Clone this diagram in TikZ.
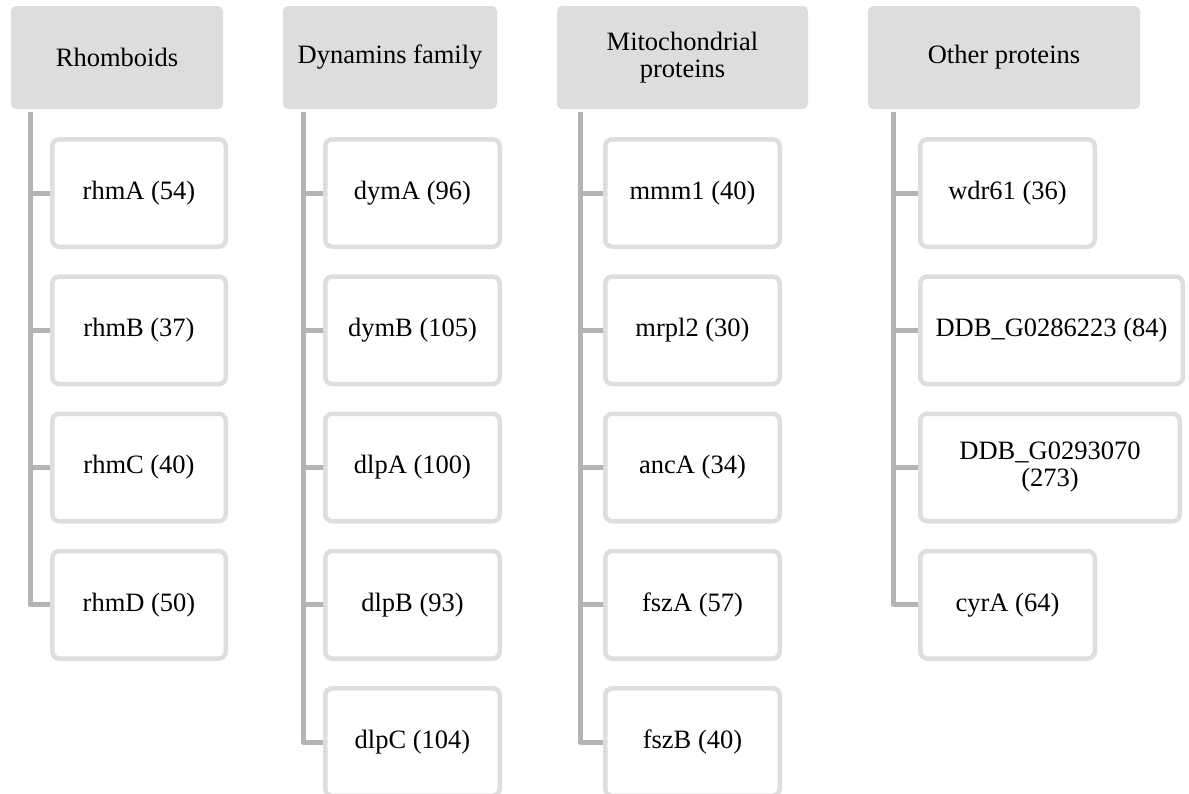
\documentclass[tikz,border=0pt]{standalone}
\usepackage{fontspec}
\setmainfont{Liberation Serif}
\usetikzlibrary{backgrounds}
\definecolor{hdrgray}{HTML}{DDDDDD}
\definecolor{leafgray}{HTML}{DEDEDE}
\definecolor{conngray}{HTML}{B4B4B4}
\newcommand\hfont{\fontsize{26.5}{27}\selectfont}
\tikzset{
  hdr/.style={fill=hdrgray, rounded corners=5pt, inner sep=0pt, align=center, font=\hfont, minimum height=103pt},
  leaf/.style={draw=leafgray, line width=4.5pt, fill=white, rounded corners=7pt, minimum height=107.5pt, inner sep=0pt, align=center, font=\hfont},
  conn/.style={draw=conngray, line width=5pt, line join=round}
}
\begin{document}
\begin{tikzpicture}[x=1pt,y=-1pt]
\useasboundingbox (0,0) rectangle (1189,793);
\clip (0,0) rectangle (1189,793);
% headers
\node[hdr, minimum width=212pt] (h1) at (117,57.5) {Rhomboids};
\node[hdr, minimum width=214pt] (h2) at (390,57.5) {Dynamins family};
\node[hdr, minimum width=251pt] (h3) at (682.5,57.5) {\raisebox{-2pt}{\parbox{240pt}{\centering Mitochondrial\\proteins}}};
\node[hdr, minimum width=272pt] (h4) at (1004,57.5) {Other proteins};
% trunk tops
\coordinate (t1) at (30,112);
\coordinate (t2) at (303,112);
\coordinate (t3) at (580,112);
\coordinate (t4) at (893.5,112);
% leaves column 1
\path
  node[leaf, minimum width=173.5pt] (a1) at (139,193) {rhmA (54)}
  node[leaf, minimum width=173.5pt] (a2) at (139,330.25) {rhmB (37)}
  node[leaf, minimum width=173.5pt] (a3) at (139,467.5) {rhmC (40)}
  node[leaf, minimum width=173.5pt] (a4) at (139,604.75) {rhmD (50)};
% column 2
\path
  node[leaf, minimum width=174.5pt] (b1) at (412.5,193) {dymA (96)}
  node[leaf, minimum width=174.5pt] (b2) at (412.5,330.25) {dymB (105)}
  node[leaf, minimum width=174.5pt] (b3) at (412.5,467.5) {dlpA (100)}
  node[leaf, minimum width=174.5pt] (b4) at (412.5,604.75) {dlpB (93)}
  node[leaf, minimum width=174.5pt] (b5) at (412.5,742) {dlpC (104)};
% column 3
\path
  node[leaf, minimum width=174.5pt] (c1) at (692.5,193) {mmm1 (40)}
  node[leaf, minimum width=174.5pt] (c2) at (692.5,330.25) {mrpl2 (30)}
  node[leaf, minimum width=174.5pt] (c3) at (692.5,467.5) {ancA (34)}
  node[leaf, minimum width=174.5pt] (c4) at (692.5,604.75) {fszA (57)}
  node[leaf, minimum width=174.5pt] (c5) at (692.5,742) {fszB (40)};
% column 4
\path
  node[leaf, minimum width=174.5pt] (d1) at (1007.5,193) {wdr61 (36)}
  node[leaf, minimum width=262.5pt] (d2) at (1051.5,330.25) {DDB\_G0286223 (84)}
  node[leaf, minimum width=259.5pt] (d3) at (1050,467.5) {DDB\_G0293070\\(273)}
  node[leaf, minimum width=174.5pt] (d4) at (1007.5,604.75) {cyrA (64)};
% connectors (drawn behind leaves)
\begin{scope}[on background layer]
  \draw[conn] (t1) |- (a4.west);
  \foreach \n in {a1,a2,a3} \draw[conn] (t1 |- \n.west) -- (\n.west);
  \draw[conn] (t2) |- (b5.west);
  \foreach \n in {b1,b2,b3,b4} \draw[conn] (t2 |- \n.west) -- (\n.west);
  \draw[conn] (t3) |- (c5.west);
  \foreach \n in {c1,c2,c3,c4} \draw[conn] (t3 |- \n.west) -- (\n.west);
  \draw[conn] (t4) |- (d4.west);
  \foreach \n in {d1,d2,d3} \draw[conn] (t4 |- \n.west) -- (\n.west);
\end{scope}
\end{tikzpicture}
\end{document}
